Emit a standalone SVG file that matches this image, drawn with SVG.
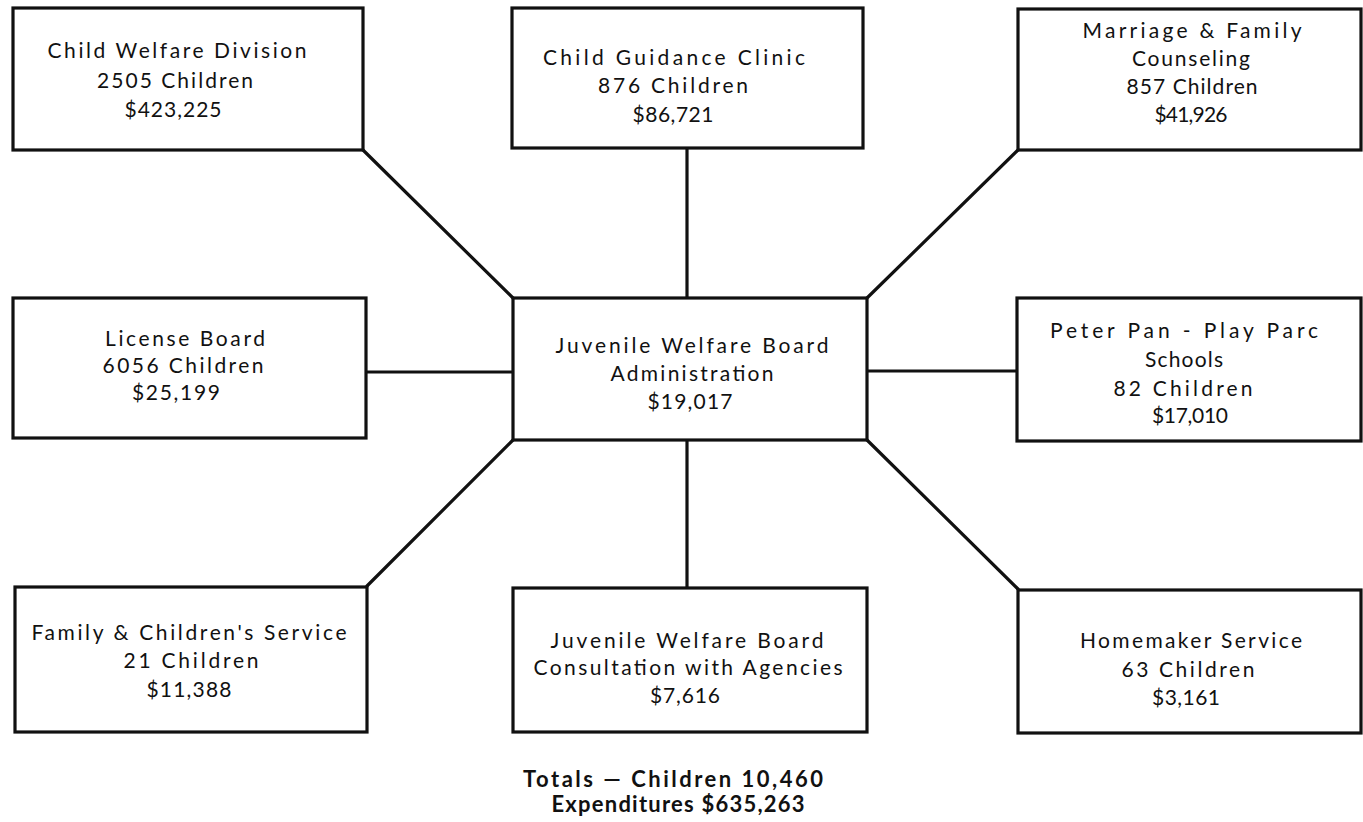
<svg xmlns="http://www.w3.org/2000/svg" width="1363" height="822" viewBox="0 0 1363 822">
<style>
.box{fill:#fff;stroke:#111;stroke-width:3.2}
.ln{stroke:#111;stroke-width:3.2;fill:none;stroke-linecap:round}
text{font-family:"Lato","Liberation Sans",sans-serif;font-size:21px;fill:#111;text-anchor:middle}
.b{font-weight:bold;font-size:22px}
</style>
<rect width="1363" height="822" fill="#fff"/>
<g id="connectors">
<line class="ln" x1="363" y1="150" x2="513" y2="298"/>
<line class="ln" x1="687" y1="148" x2="687" y2="298"/>
<line class="ln" x1="1018" y1="150" x2="867" y2="298"/>
<line class="ln" x1="366" y1="372" x2="513" y2="372"/>
<line class="ln" x1="867" y1="371" x2="1017" y2="371"/>
<line class="ln" x1="513" y1="440" x2="367" y2="586"/>
<line class="ln" x1="687" y1="440" x2="687" y2="588"/>
<line class="ln" x1="867" y1="440" x2="1018" y2="589"/>
</g>
<g id="child-welfare">
<rect class="box" x="13" y="8" width="350" height="142"/>
<text x="177" y="58" textLength="259" lengthAdjust="spacing">Child Welfare Division</text>
<text x="175" y="88" textLength="156" lengthAdjust="spacing">2505 Children</text>
<text x="173" y="117" textLength="97" lengthAdjust="spacing">$423,225</text>
</g>
<g id="child-guidance">
<rect class="box" x="512" y="8" width="351" height="140"/>
<text x="674" y="65" textLength="262" lengthAdjust="spacing">Child Guidance Clinic</text>
<text x="673" y="93" textLength="150" lengthAdjust="spacing">876 Children</text>
<text x="673" y="122" textLength="81" lengthAdjust="spacing">$86,721</text>
</g>
<g id="marriage">
<rect class="box" x="1018" y="9" width="343" height="141"/>
<text x="1192" y="38" textLength="219" lengthAdjust="spacing">Marriage &amp; Family</text>
<text x="1191" y="66" textLength="118" lengthAdjust="spacing">Counseling</text>
<text x="1192" y="94" textLength="131" lengthAdjust="spacing">857 Children</text>
<text x="1191" y="122" textLength="73" lengthAdjust="spacing">$41,926</text>
</g>
<g id="license-board">
<rect class="box" x="13" y="298" width="353" height="140"/>
<text x="185" y="346" textLength="160" lengthAdjust="spacing">License Board</text>
<text x="183" y="373" textLength="161" lengthAdjust="spacing">6056 Children</text>
<text x="176" y="400" textLength="88" lengthAdjust="spacing">$25,199</text>
</g>
<g id="administration">
<rect class="box" x="513" y="298" width="354" height="142"/>
<text x="692" y="353" textLength="273" lengthAdjust="spacing">Juvenile Welfare Board</text>
<text x="692" y="381" textLength="163" lengthAdjust="spacing">Administration</text>
<text x="690" y="409" textLength="85" lengthAdjust="spacing">$19,017</text>
</g>
<g id="peter-pan">
<rect class="box" x="1017" y="298" width="344" height="143"/>
<text x="1184" y="338" textLength="268" lengthAdjust="spacing">Peter Pan - Play Parc</text>
<text x="1184" y="367" textLength="78" lengthAdjust="spacing">Schools</text>
<text x="1183" y="396" textLength="139" lengthAdjust="spacing">82 Children</text>
<text x="1190" y="423" textLength="76" lengthAdjust="spacing">$17,010</text>
</g>
<g id="family-children">
<rect class="box" x="15" y="587" width="352" height="145"/>
<text x="189" y="640" textLength="315" lengthAdjust="spacing">Family &amp; Children's Service</text>
<text x="191" y="668" textLength="135" lengthAdjust="spacing">21 Children</text>
<text x="189" y="697" textLength="85" lengthAdjust="spacing">$11,388</text>
</g>
<g id="consultation">
<rect class="box" x="513" y="588" width="354" height="144"/>
<text x="687" y="648" textLength="273" lengthAdjust="spacing">Juvenile Welfare Board</text>
<text x="688" y="675" textLength="309" lengthAdjust="spacing">Consultation with Agencies</text>
<text x="685" y="703" textLength="70" lengthAdjust="spacing">$7,616</text>
</g>
<g id="homemaker">
<rect class="box" x="1018" y="590" width="343" height="143"/>
<text x="1191" y="648" textLength="222" lengthAdjust="spacing">Homemaker Service</text>
<text x="1188" y="677" textLength="133" lengthAdjust="spacing">63 Children</text>
<text x="1186" y="705" textLength="68" lengthAdjust="spacing">$3,161</text>
</g>
<g id="totals">
<text class="b" x="673" y="787" textLength="300" lengthAdjust="spacing">Totals — Children 10,460</text>
<text class="b" x="678" y="812" textLength="253" lengthAdjust="spacing">Expenditures $635,263</text>
</g>
</svg>
